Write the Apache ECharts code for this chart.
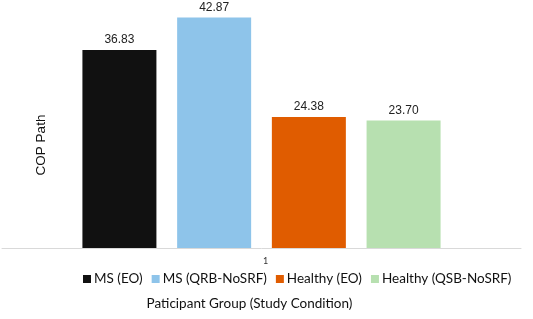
<!DOCTYPE html>
<html>
<head>
    <meta charset="UTF-8">
    <title>COP Path</title>
    <style type="text/css">
        html, body { margin: 0; padding: 0; background: #fff; }
        #main { width: 533px; height: 319px; }
    </style>
</head>
<body>
<div id="main"></div>
<script src="https://cdn.jsdelivr.net/npm/echarts@6/dist/echarts.min.js"></script>
<script>
    var categories = ['1'];
    var seriesNames = ['MS (EO)', 'MS (QRB-NoSRF)', 'Healthy (EO)', 'Healthy (QSB-NoSRF)'];
    var seriesValues = [[36.83], [42.87], [24.38], [23.70]];
    var seriesColors = ['#111111', '#8ec4ea', '#e05c00', '#b7e0b0'];

    var myChart = echarts.init(document.getElementById('main'));

    var series = [];
    for (var i = 0; i < seriesNames.length; i++) {
        series.push({
            name: seriesNames[i],
            type: 'bar',
            data: seriesValues[i],
            barWidth: 74,
            barGap: '28%',
            itemStyle: { color: seriesColors[i] },
            label: {
                show: true,
                position: 'top',
                distance: 4,
                formatter: function (p) { return p.value.toFixed(2); },
                color: '#222',
                fontSize: 12,
                fontFamily: 'Liberation Sans'
            }
        });
    }

    var option = {
        animation: false,
        grid: { left: 2, right: 12, top: 6, bottom: 71, containLabel: false },
        legend: {
            data: seriesNames,
            top: 272,
            left: 83,
            padding: 0,
            itemWidth: 8,
            itemHeight: 8,
            itemGap: 9,
            icon: 'rect',
            textStyle: { fontFamily: 'Lato', fontSize: 13.5, color: '#111', padding: [0, 0, 0, -2] }
        },
        xAxis: {
            type: 'category',
            data: categories,
            name: 'Paticipant Group (Study Condition)',
            nameLocation: 'middle',
            nameGap: 49,
            nameTextStyle: { fontFamily: 'Lato', fontSize: 13.5, color: '#111', padding: [0, 24, 0, 0] },
            axisLine: { lineStyle: { color: '#d9d9d9', width: 1 } },
            axisTick: { show: false },
            axisLabel: { fontSize: 9, color: '#333', margin: 9, fontFamily: 'Lato', padding: [0, 0, 0, 8] }
        },
        yAxis: {
            type: 'value',
            min: 0,
            max: 45,
            name: 'COP Path',
            nameLocation: 'middle',
            nameRotate: 90,
            nameGap: -46,
            nameTextStyle: { fontFamily: 'Liberation Sans', fontSize: 13.5, color: '#111', padding: [0, 36, 0, 0] },
            axisLine: { show: false },
            axisTick: { show: false },
            axisLabel: { show: false },
            splitLine: { show: false }
        },
        series: series
    };

    myChart.setOption(option);
</script>
</body>
</html>
